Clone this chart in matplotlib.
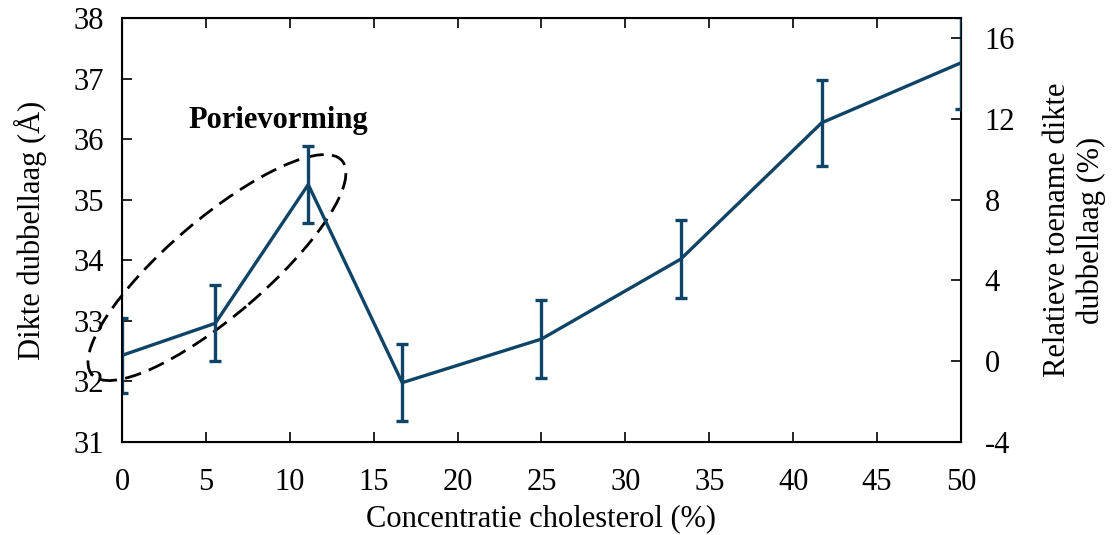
import matplotlib.pyplot as plt
from matplotlib.patches import Ellipse
from matplotlib.transforms import ScaledTranslation

plt.rcParams['font.family'] = ['Liberation Serif', 'DejaVu Serif']

# Cholesterol concentration (%) and bilayer thickness (Angstrom)
concentration = [0, 5.56, 11.1, 16.7, 25, 33.3, 41.7, 50]
thickness = [32.43, 32.96, 35.25, 31.98, 32.70, 34.02, 36.27, 37.26]
thickness_err = [0.62, 0.63, 0.63, 0.64, 0.65, 0.65, 0.71, 0.76]

x_ticks = list(range(0, 51, 5))
left_ticks = list(range(31, 39))
right_ticks = [-4, 0, 4, 8, 12, 16]

color = '#0f4466'
fs = 22

fig = plt.figure(figsize=(11.16, 5.35), dpi=100)
ax = fig.add_axes([0.1093, 0.1738, 0.7518, 0.7926])

ax.errorbar(concentration, thickness, yerr=thickness_err, color=color,
            linewidth=2.4, elinewidth=2.4, capsize=4, capthick=2.4, zorder=3)

ax.set_xlim(0, 50)
ax.set_ylim(31, 38)
ax.set_xticks(x_ticks)
ax.set_yticks(left_ticks)
ax.tick_params(direction='in', length=7, width=1.2, labelsize=fs, top=True, pad=19)
ax.tick_params(axis='y', pad=13)
for s in ax.spines.values():
    s.set_linewidth(1.5)
ax.set_xlabel('Concentratie cholesterol (%)', fontsize=fs, labelpad=5)
ax.set_ylabel('Dikte dubbellaag (Å)', fontsize=fs, labelpad=19)

ax2 = ax.twinx()
ax2.set_ylim(-4, 17)
ax2.set_yticks(right_ticks)
ax2.set_yticklabels([str(t) for t in right_ticks])
ax2.tick_params(direction='in', length=7, width=1.2, labelsize=fs, pad=17)
ax2.set_ylabel('Relatieve toename dikte\ndubbellaag (%)', fontsize=fs, labelpad=20)

# dashed ellipse around the pore-formation region
ell_tf = fig.dpi_scale_trans + ScaledTranslation(5.66, 33.88, ax.transData)
ell = Ellipse((0, 0), width=3.29, height=0.97, angle=40.5, fill=False,
              linestyle=(0, (6, 3)), linewidth=2, color='black',
              transform=ell_tf, clip_on=False)
ax.add_patch(ell)
ax.text(9.3, 36.3, 'Porievorming', fontsize=fs, fontweight='bold',
        ha='center', va='center')

fig.savefig('out.png', dpi=100)
